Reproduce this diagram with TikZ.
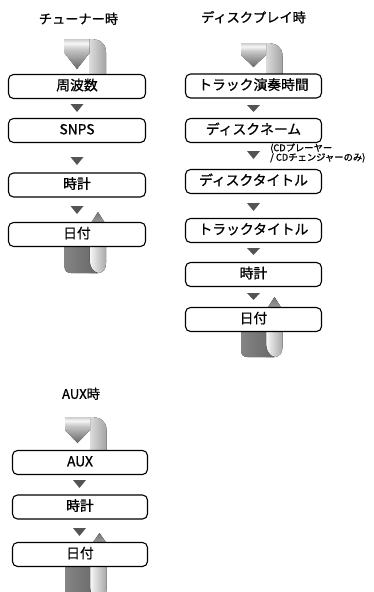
\documentclass[tikz,border=0pt]{standalone}
\usepackage{fontspec}
\setmainfont{Noto Sans CJK JP}[FakeBold=1.0]
\definecolor{arrowgray}{gray}{0.33}
\definecolor{tA}{gray}{0.40}
\definecolor{tB}{gray}{0.78}
\definecolor{tC}{gray}{0.97}
\definecolor{tD}{gray}{0.80}
\definecolor{sA}{gray}{0.86}
\definecolor{sB}{gray}{0.64}
\definecolor{bA}{gray}{0.52}
\definecolor{bB}{gray}{0.40}
\definecolor{wA}{gray}{0.97}
\definecolor{wB}{gray}{0.66}
\definecolor{uA}{gray}{0.62}
\definecolor{uB}{gray}{0.45}
\pgfdeclareverticalshading{bandtop}{100bp}{color(0bp)=(tA); color(25bp)=(tA); color(58bp)=(tB); color(68bp)=(tC); color(75bp)=(tD); color(100bp)=(tD)}
\pgfdeclarehorizontalshading{striptop}{100bp}{color(0bp)=(sA); color(25bp)=(sA); color(75bp)=(sB); color(100bp)=(sB)}
\pgfdeclarehorizontalshading{bandbot}{100bp}{color(0bp)=(bA); color(25bp)=(bA); color(75bp)=(bB); color(100bp)=(bB)}
\pgfdeclarehorizontalshading{stripbot}{100bp}{color(0bp)=(wA); color(25bp)=(wA); color(75bp)=(wB); color(100bp)=(wB)}
\pgfdeclareverticalshading{uparr}{100bp}{color(0bp)=(uA); color(25bp)=(uA); color(75bp)=(uB); color(100bp)=(uB)}
% ribbon above first box: ribbon centre, top, arrow base, tip, box top
\newcommand\RibTop[5]{%
  \fill[shading=striptop] ({#1+12.5},#2) .. controls ({#1+23},#2) and ({#1+29},{#2+4}) .. ({#1+29},{#2+13}) -- ({#1+29},#5) -- ({#1+12.5},#5) -- cycle;
  \fill[shading=bandtop] ({#1-12.5},#2) -- ({#1+12.5},#2) -- ({#1+12.5},#3) -- (#1,#4) -- ({#1-12.5},#3) -- cycle;
}
% ribbon below last box: ribbon centre, box bottom, bottom
\newcommand\RibBot[3]{%
  \fill[shading=stripbot] ({#1+12.5},#2) -- ({#1+29},#2) -- ({#1+29},{#3-10}) .. controls ({#1+29},{#3-4}) and ({#1+26},#3) .. ({#1+21},#3) -- ({#1+12.5},#3) -- cycle;
  \fill[shading=bandbot] ({#1-12.5},#2) -- ({#1+12.5},#2) -- ({#1+12.5},{#3-15}) .. controls ({#1+12.5},{#3-6}) and ({#1+16},{#3-1}) .. ({#1+21},#3) -- ({#1-6},#3) .. controls ({#1-10},#3) and ({#1-12.5},{#3-2}) .. ({#1-12.5},{#3-7}) -- cycle;
}
\newcommand\DownArr[3]{\fill[arrowgray] ({#1-6.5},#2) -- ({#1+6.5},#2) -- (#1,#3) -- cycle;}
\newcommand\UpArr[3]{\fill[shading=uparr] ({#1-7},#3) -- ({#1+7},#3) -- (#1,#2) -- cycle;}
\begin{document}
\begin{tikzpicture}[x=1pt,y=-1pt,
  stepbox/.style={draw=black, fill=white, line width=1.1pt, rounded corners=5pt,
    minimum height=24pt, inner sep=0pt, text height=0.76em, text depth=0pt,
    font=\fontsize{13.8}{15}\selectfont},
  ttl/.style={inner sep=0pt, text height=0.76em, text depth=0pt, font=\fontsize{13.2}{14}\selectfont},
  note/.style={inner sep=0pt, align=left, font=\fontsize{9.3}{9.5}\selectfont}]
\useasboundingbox (0,0) rectangle (374,592);
\begin{scope}
\clip (0,0) rectangle (374,592);
% ---------- column 1 ----------
\node[ttl] (t1) at (78.5,20) {チューナー時};
\RibTop{77}{39}{53}{69}{75}
\RibBot{77}{246}{273}
\DownArr{77}{104}{112}
\DownArr{77}{157}{165}
\DownArr{77}{206}{214}
\UpArr{98}{212}{223}
\node[stepbox, minimum width=137pt] (a1) at (77,86.5) {周波数};
\node[stepbox, minimum width=137pt] (a2) at (77,130.5) {SNPS};
\node[stepbox, minimum width=137pt] (a3) at (77,185) {時計};
\node[stepbox, minimum width=137pt] (a4) at (77,234.5) {日付};
% ---------- column 2 ----------
\node[ttl] (t2) at (253.5,18.5) {ディスクプレイ時};
\RibTop{253.5}{43}{55}{67}{75}
\RibBot{253.5}{331}{357}
\DownArr{253.5}{105}{112}
\DownArr{253.5}{151}{159}
\DownArr{253.5}{203}{211}
\DownArr{253.5}{248}{255}
\DownArr{253.5}{293}{300}
\UpArr{274.5}{297}{308}
\node[stepbox, minimum width=136pt] (b1) at (253.5,86) {トラック演奏時間};
\node[stepbox, minimum width=136pt] (b2) at (253.5,130.5) {ディスクネーム};
\node[stepbox, minimum width=136pt] (b3) at (253.5,181.5) {ディスクタイトル};
\node[stepbox, minimum width=136pt] (b4) at (253.5,230.5) {トラックタイトル};
\node[stepbox, minimum width=136pt] (b5) at (253.5,274.5) {時計};
\node[stepbox, minimum width=136pt] (b6) at (253.5,319.5) {日付};
\node[note, anchor=north west] (n2) at (270,143.3) {(CDプレーヤー\\/ CDチェンジャーのみ)};
% ---------- column 3 ----------
\node[ttl] (t3) at (81,395) {AUX時};
\RibTop{77.5}{417}{430}{443}{451}
\RibBot{77.5}{566}{600}
\DownArr{79.5}{480}{488}
\DownArr{79.5}{528}{536}
\UpArr{99.5}{533}{543}
\node[stepbox, minimum width=135pt] (c1) at (80,462.5) {AUX};
\node[stepbox, minimum width=135pt] (c2) at (80,507) {時計};
\node[stepbox, minimum width=135pt] (c3) at (80,554.5) {日付};
\end{scope}
\end{tikzpicture}
\end{document}
